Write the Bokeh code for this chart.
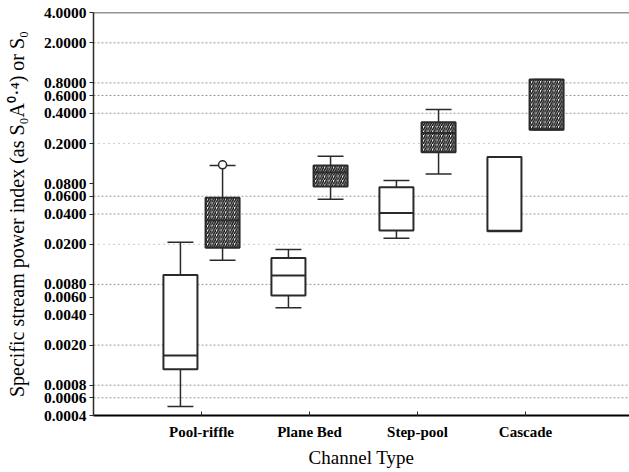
from bokeh.plotting import figure
from bokeh.models import FixedTicker, Span, Range1d, PrintfTickFormatter
from bokeh.embed import file_html
from bokeh.resources import INLINE

categories = ["Pool-riffle", "Plane Bed", "Step-pool", "Cascade"]
cat_pos = [1, 2, 3, 4]

# S0 (open boxes)
s0_low = [0.00049, 0.0047, 0.023, 0.027]
s0_q1 = [0.00115, 0.0062, 0.0274, 0.027]
s0_med = [0.00158, 0.0098, 0.041, 0.0272]
s0_q3 = [0.0099, 0.0146, 0.0738, 0.147]
s0_high = [0.021, 0.0178, 0.086, 0.147]

# S0 A^0.4 (hatched boxes)
ix_low = [0.0139, 0.0561, 0.100, 0.274]
ix_q1 = [0.0185, 0.075, 0.164, 0.274]
ix_med = [0.0345, 0.104, 0.254, 0.277]
ix_q3 = [0.058, 0.121, 0.326, 0.865]
ix_high = [0.121, 0.150, 0.436, 0.865]

outlier_cat = [1]
outlier_val = [0.123]

y_ticks = [0.0004, 0.0006, 0.0008, 0.002, 0.004, 0.006, 0.008, 0.02, 0.04,
           0.06, 0.08, 0.2, 0.4, 0.6, 0.8, 2.0, 4.0]
grid_dense = [0.0006, 0.0008, 0.002, 0.008, 0.04, 0.06, 0.4, 0.6, 0.8, 2.0]
grid_sparse = [0.02, 0.2]

OFF = 0.195
BOXW = 0.315
CAPW = 0.24
INK = "#2a2a2a"
FONT = "Liberation Serif"

p = figure(width=629, height=472, frame_width=536, frame_height=403,
           y_axis_type="log", x_range=Range1d(0, 536 / 108.0),
           y_range=Range1d(0.0004, 4.0),
           output_backend="svg", toolbar_location=None,
           min_border_left=93, min_border_right=0, min_border_top=12,
           min_border_bottom=57)
p.outline_line_color = None
p.xgrid.visible = False
p.ygrid.visible = False
p.background_fill_color = "white"
p.border_fill_color = "white"

for vals, dash in ((grid_dense, "2 2"), (grid_sparse, "1 4")):
    for v in vals:
        p.add_layout(Span(location=v, dimension="width", line_color="#9a9a9a",
                          line_width=1, line_dash=dash, level="underlay"))
p.add_layout(Span(location=4.0, dimension="width", line_color=INK, line_width=1.5))


def draw(xs, low, q1, med, q3, high, hatched):
    p.segment(xs, low, xs, q1, line_color=INK, line_width=1.5)
    p.segment(xs, q3, xs, high, line_color=INK, line_width=1.5)
    p.segment([x - CAPW / 2 for x in xs], low, [x + CAPW / 2 for x in xs], low,
              line_color=INK, line_width=1.5)
    p.segment([x - CAPW / 2 for x in xs], high, [x + CAPW / 2 for x in xs], high,
              line_color=INK, line_width=1.5)
    kw = dict(fill_color="white", line_color=INK, line_width=2)
    if hatched:
        kw.update(hatch_pattern="/", hatch_color="#111111", hatch_scale=4.5,
                  hatch_weight=1.5)
    p.quad(left=[x - BOXW / 2 for x in xs], right=[x + BOXW / 2 for x in xs],
           bottom=q1, top=q3, **kw)
    p.segment([x - BOXW / 2 for x in xs], med, [x + BOXW / 2 for x in xs], med,
              line_color=INK, line_width=2)


draw([c - OFF for c in cat_pos], s0_low, s0_q1, s0_med, s0_q3, s0_high, False)
draw([c + OFF for c in cat_pos], ix_low, ix_q1, ix_med, ix_q3, ix_high, True)
p.scatter([c + OFF for c in outlier_cat], outlier_val, size=8, marker="circle",
          fill_color="white", line_color=INK, line_width=1.5)

# axes
p.xaxis.ticker = FixedTicker(ticks=cat_pos)
p.xaxis.major_label_overrides = {c: n for c, n in zip(cat_pos, categories)}
p.xaxis.axis_label = "Channel Type"
p.xaxis.major_tick_in = 4
p.xaxis.major_tick_out = 0
p.xaxis.minor_tick_line_color = None
p.xaxis.axis_line_color = "black"
p.xaxis.axis_line_width = 2
p.xaxis.major_tick_line_color = INK
p.xaxis.major_label_standoff = 8
p.xaxis.major_label_text_font = FONT
p.xaxis.major_label_text_font_style = "bold"
p.xaxis.major_label_text_font_size = "15px"
p.xaxis.major_label_text_color = "black"
p.xaxis.axis_label_text_font = FONT
p.xaxis.axis_label_text_font_style = "normal"
p.xaxis.axis_label_text_font_size = "19px"
p.xaxis.axis_label_text_color = "black"
p.xaxis.axis_label_standoff = 4

p.yaxis.ticker = FixedTicker(ticks=y_ticks, minor_ticks=[])
p.yaxis.formatter = PrintfTickFormatter(format="%.4f")
p.yaxis.axis_label = "Specific stream power index (as S\u2080A\u2070\u00b7\u2074) or S\u2080"
p.yaxis.major_tick_in = 0
p.yaxis.major_tick_out = 4
p.yaxis.minor_tick_line_color = None
p.yaxis.axis_line_color = INK
p.yaxis.axis_line_width = 1.5
p.yaxis.major_tick_line_color = INK
p.yaxis.major_label_standoff = 3
p.yaxis.major_label_text_font = FONT
p.yaxis.major_label_text_font_style = "bold"
p.yaxis.major_label_text_font_size = "15.5px"
p.yaxis.major_label_text_color = "black"
p.yaxis.axis_label_text_font = FONT
p.yaxis.axis_label_text_font_style = "normal"
p.yaxis.axis_label_text_font_size = "20px"
p.yaxis.axis_label_text_color = "black"
p.yaxis.axis_label_standoff = 13

open("out.html", "w").write(file_html(p, INLINE))
